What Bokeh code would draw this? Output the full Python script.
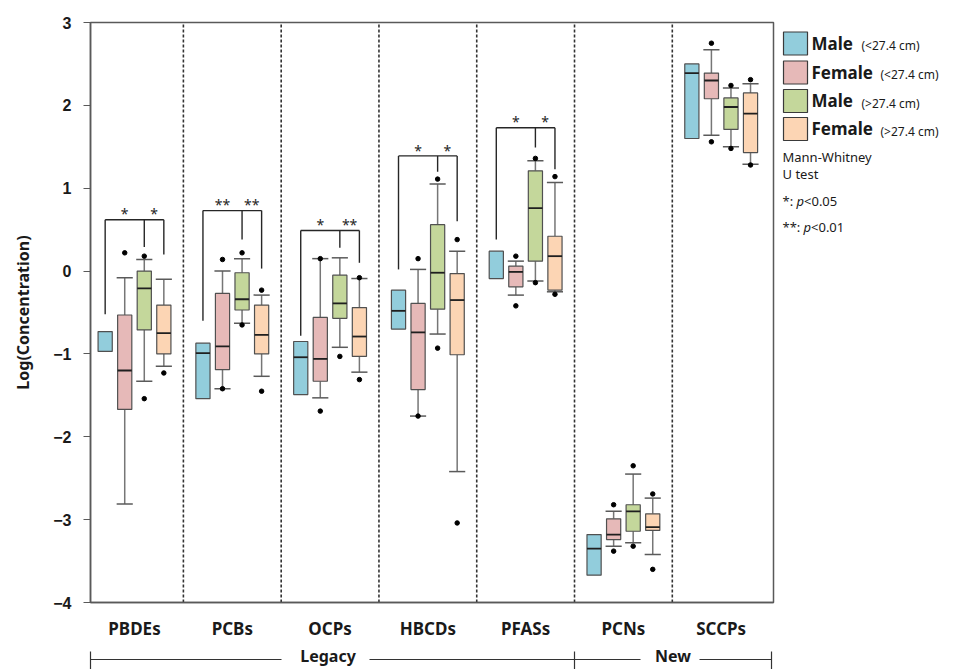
from bokeh.plotting import figure
from bokeh.models import Range1d, FixedTicker, ColumnDataSource
from bokeh.embed import file_html
from bokeh.resources import INLINE
from bokeh.core.properties import value

# ---------------- data ----------------
categories = ["PBDEs", "PCBs", "OCPs", "HBCDs", "PFASs", "PCNs", "SCCPs"]
legend_names = ["Male", "Female", "Male", "Female"]
legend_sizes = ["(<27.4 cm)", "(<27.4 cm)", "(>27.4 cm)", "(>27.4 cm)"]
y_ticks = [-4, -3, -2, -1, 0, 1, 2, 3]

# Male (<27.4 cm)
m_small_q1 = [-0.97, -1.54, -1.49, -0.70, -0.09, -3.67, 1.60]
m_small_med = [None, -0.99, -1.04, -0.48, None, -3.35, 2.39]
m_small_q3 = [-0.73, -0.87, -0.85, -0.23, 0.24, -3.18, 2.50]
m_small_lo = [None, None, None, None, None, None, None]
m_small_hi = [None, None, None, None, None, None, None]
m_small_out = [[], [], [], [], [], [], []]

# Female (<27.4 cm)
f_small_q1 = [-1.67, -1.19, -1.33, -1.43, -0.19, -3.24, 2.08]
f_small_med = [-1.20, -0.91, -1.06, -0.74, -0.01, -3.18, 2.30]
f_small_q3 = [-0.53, -0.27, -0.56, -0.39, 0.06, -2.99, 2.39]
f_small_lo = [-2.81, -1.42, -1.53, -1.75, -0.29, -3.32, 1.64]
f_small_hi = [-0.08, 0.00, 0.15, 0.02, 0.12, -2.90, 2.67]
f_small_out = [[0.22], [0.14, -1.42], [0.15, -1.69], [0.15, -1.75], [0.18, -0.42], [-2.82, -3.38], [2.75, 1.56]]

# Male (>27.4 cm)
m_large_q1 = [-0.71, -0.47, -0.57, -0.46, 0.12, -3.14, 1.71]
m_large_med = [-0.21, -0.34, -0.39, -0.02, 0.76, -2.90, 1.98]
m_large_q3 = [0.00, -0.02, -0.05, 0.56, 1.21, -2.82, 2.09]
m_large_lo = [-1.33, -0.63, -0.92, -0.76, -0.12, -3.28, 1.50]
m_large_hi = [0.14, 0.15, 0.16, 1.05, 1.33, -2.45, 2.21]
m_large_out = [[0.18, -1.54], [0.22, -0.65], [-1.03], [1.11, -0.93], [1.36, -0.14], [-2.35, -3.32], [2.24, 1.48]]

# Female (>27.4 cm)
f_large_q1 = [-1.00, -1.00, -1.03, -1.01, -0.23, -3.13, 1.43]
f_large_med = [-0.75, -0.77, -0.79, -0.35, 0.18, -3.09, 1.90]
f_large_q3 = [-0.41, -0.41, -0.44, -0.03, 0.42, -2.93, 2.15]
f_large_lo = [-1.15, -1.27, -1.22, -2.42, -0.25, -3.42, 1.29]
f_large_hi = [-0.10, -0.29, -0.09, 0.24, 1.07, -2.74, 2.26]
f_large_out = [[-1.23], [-0.23, -1.45], [-0.08, -1.31], [0.38, -3.04], [1.14, -0.28], [-2.69, -3.60], [2.31, 1.28]]

# Mann-Whitney brackets (first five categories)
bracket_top = [0.62, 0.73, 0.49, 1.39, 1.73]
bracket_left = [-0.52, -0.60, -0.78, 0.02, 0.38]
bracket_mid = [0.29, 0.38, 0.28, 1.20, 1.49]
bracket_right = [0.20, 0.03, 0.10, 0.60, 1.23]
sig_left = ["*", "**", "*", "*", "*"]
sig_right = ["*", "**", "**", "*", "*"]

# ---------------- style ----------------
colors = ["#92CDDC", "#E6B9B8", "#C4D79B", "#FCD5B4"]
offsets = [-0.3, -0.1, 0.1, 0.3]
box_w = 0.145
cap_w = 0.165
FONT = "Noto Sans"
TXT = "#1a1a1a"

series = [
    (m_small_q1, m_small_med, m_small_q3, m_small_lo, m_small_hi, m_small_out),
    (f_small_q1, f_small_med, f_small_q3, f_small_lo, f_small_hi, f_small_out),
    (m_large_q1, m_large_med, m_large_q3, m_large_lo, m_large_hi, m_large_out),
    (f_large_q1, f_large_med, f_large_q3, f_large_lo, f_large_hi, f_large_out),
]

p = figure(width=957, height=669, x_range=Range1d(0.05, 7.035), y_range=Range1d(-4, 3),
           output_backend="svg", toolbar_location=None,
           min_border_left=90, min_border_right=184, min_border_top=22, min_border_bottom=67)
p.xgrid.visible = False
p.ygrid.visible = False
p.outline_line_color = "#595959"
p.outline_line_width = 1.5
p.background_fill_color = "white"

ya = p.yaxis[0]
ya.ticker = FixedTicker(ticks=y_ticks)
ya.major_label_text_font = "Liberation Sans"
ya.major_label_text_font_style = "bold"
ya.major_label_text_font_size = "16px"
ya.major_label_text_color = TXT
ya.major_tick_out = 7
ya.major_tick_in = 0
ya.minor_tick_out = 0
ya.minor_tick_in = 0
ya.major_tick_line_color = "#595959"
ya.axis_line_color = "#595959"
ya.axis_line_width = 1.5
ya.major_label_standoff = 12
ya.axis_label = "Log(Concentration)"
ya.axis_label_text_font = FONT
ya.axis_label_text_font_style = "bold"
ya.axis_label_text_font_size = "16px"
ya.axis_label_text_color = TXT
ya.axis_label_standoff = 16

xa = p.xaxis[0]
cat_pos = [i + 0.5 for i in range(len(categories))]
xa.ticker = FixedTicker(ticks=cat_pos)
xa.major_label_overrides = {pos: c for pos, c in zip(cat_pos, categories)}
xa.major_tick_out = 0
xa.major_tick_in = 0
xa.minor_tick_out = 0
xa.minor_tick_in = 0
xa.axis_line_color = "#595959"
xa.axis_line_width = 1.5
xa.major_label_text_font = FONT
xa.major_label_text_font_style = "bold"
xa.major_label_text_font_size = "17px"
xa.major_label_text_color = TXT
xa.major_label_standoff = 14

# dashed separators
sep = list(range(1, len(categories)))
p.segment(x0=sep, x1=sep, y0=[-4] * len(sep), y1=[3] * len(sep),
          line_color="#333333", line_width=1.6, line_dash="3 2")

# boxes
for s, (q1, med, q3, lo, hi, out) in enumerate(series):
    xs = [i + 0.5 + offsets[s] for i in range(len(categories))]
    wx0, wx1, wy0, wy1 = [], [], [], []
    cx0, cx1, cy = [], [], []
    for i, x in enumerate(xs):
        if hi[i] is not None:
            wx0 += [x]; wx1 += [x]; wy0 += [q3[i]]; wy1 += [hi[i]]
            cx0 += [x - cap_w / 2]; cx1 += [x + cap_w / 2]; cy += [hi[i]]
        if lo[i] is not None:
            wx0 += [x]; wx1 += [x]; wy0 += [q1[i]]; wy1 += [lo[i]]
            cx0 += [x - cap_w / 2]; cx1 += [x + cap_w / 2]; cy += [lo[i]]
    if wx0:
        p.segment(x0=wx0, x1=wx1, y0=wy0, y1=wy1, line_color="#767676", line_width=1.5)
        p.segment(x0=cx0, x1=cx1, y0=cy, y1=cy, line_color="#5a5a5a", line_width=1.5)
    p.vbar(x=xs, width=box_w, top=q3, bottom=q1, fill_color=colors[s],
           line_color="#505050", line_width=1.2)
    mx = [x for x, m in zip(xs, med) if m is not None]
    my = [m for m in med if m is not None]
    p.segment(x0=[x - box_w / 2 for x in mx], x1=[x + box_w / 2 for x in mx], y0=my, y1=my,
              line_color="#1f1f1f", line_width=1.8)
    ox, oy = [], []
    for i, x in enumerate(xs):
        for v in out[i]:
            ox.append(x); oy.append(v)
    if ox:
        p.scatter(x=ox, y=oy, size=4.5, fill_color="black", line_color="black")

# brackets
nb = len(bracket_top)
xb = [i + 0.5 + offsets[0] for i in range(nb)]
xg = [i + 0.5 + offsets[2] for i in range(nb)]
xo = [i + 0.5 + offsets[3] for i in range(nb)]
bc = "#262626"
p.segment(x0=xb, x1=xb, y0=bracket_left, y1=bracket_top, line_color=bc, line_width=1.4)
p.segment(x0=xb, x1=xo, y0=bracket_top, y1=bracket_top, line_color=bc, line_width=1.4)
p.segment(x0=xg, x1=xg, y0=bracket_top, y1=bracket_mid, line_color=bc, line_width=1.4)
p.segment(x0=xo, x1=xo, y0=bracket_top, y1=bracket_right, line_color=bc, line_width=1.4)
star_src = ColumnDataSource(dict(
    x=[(a + b) / 2 for a, b in zip(xb, xg)] + [(a + b) / 2 for a, b in zip(xg, xo)],
    y=[t + 0.07 for t in bracket_top] * 2,
    t=sig_left + sig_right))
p.text(x="x", y="y", text="t", source=star_src, text_font=value(FONT), text_font_size="14px",
       text_align="center", text_baseline="middle", text_color="#262626")

# ---------------- legend & bottom grouping (outside the frame, overlay level) ----------------
def X(px):
    return 0.05 + (px - 90) / 97.78

def Y(py):
    return 3 - (py - 22) / 82.857

def txt(px, py, t, size, style="normal", align="left"):
    p.text(x=[X(px)], y=[Y(py)], text=[t], text_font=value(FONT), text_font_size=size,
           text_font_style=style, text_align=align, text_baseline="middle",
           text_color=TXT, level="overlay")

sq_centers = [43, 72, 100.5, 128.5]
small_x = [861, 880, 861, 880]
p.rect(x=[X(795)] * 4, y=[Y(c) for c in sq_centers], width=24 / 97.78, height=23 / 82.857,
       fill_color=colors, line_color="#3a3a3a", line_width=1.2, level="overlay")
for k in range(4):
    txt(811, sq_centers[k] - 0.5, legend_names[k], "17px", "bold")
    txt(small_x[k], sq_centers[k] + 2, legend_sizes[k], "12px")

txt(782, 156.5, "Mann-Whitney", "13px")
txt(782, 173, "U test", "13px")
for stars, b, xp, xl, pv in [("*:", 200, 796, 803.5, "<0.05"), ("**:", 226.5, 803, 810.5, "<0.01")]:
    txt(782, b, stars, "13px")
    txt(xp, b, "p", "13px", "italic")
    txt(xl, b, pv, "13px")

ly = 659
hx0 = [90, 369, 574, 699]
hx1 = [281, 574, 640, 771]
vx = [90, 574, 771]
p.segment(x0=[X(v) for v in hx0], x1=[X(v) for v in hx1], y0=[Y(ly)] * 4, y1=[Y(ly)] * 4,
          line_color="#333333", line_width=1.2, level="overlay")
p.segment(x0=[X(v) for v in vx], x1=[X(v) for v in vx], y0=[Y(651)] * 3, y1=[Y(670)] * 3,
          line_color="#333333", line_width=1.2, level="overlay")
txt(327.5, 655, "Legacy", "16px", "bold", "center")
txt(672.5, 655, "New", "16px", "bold", "center")

open("out.html", "w").write(file_html(p, INLINE))
